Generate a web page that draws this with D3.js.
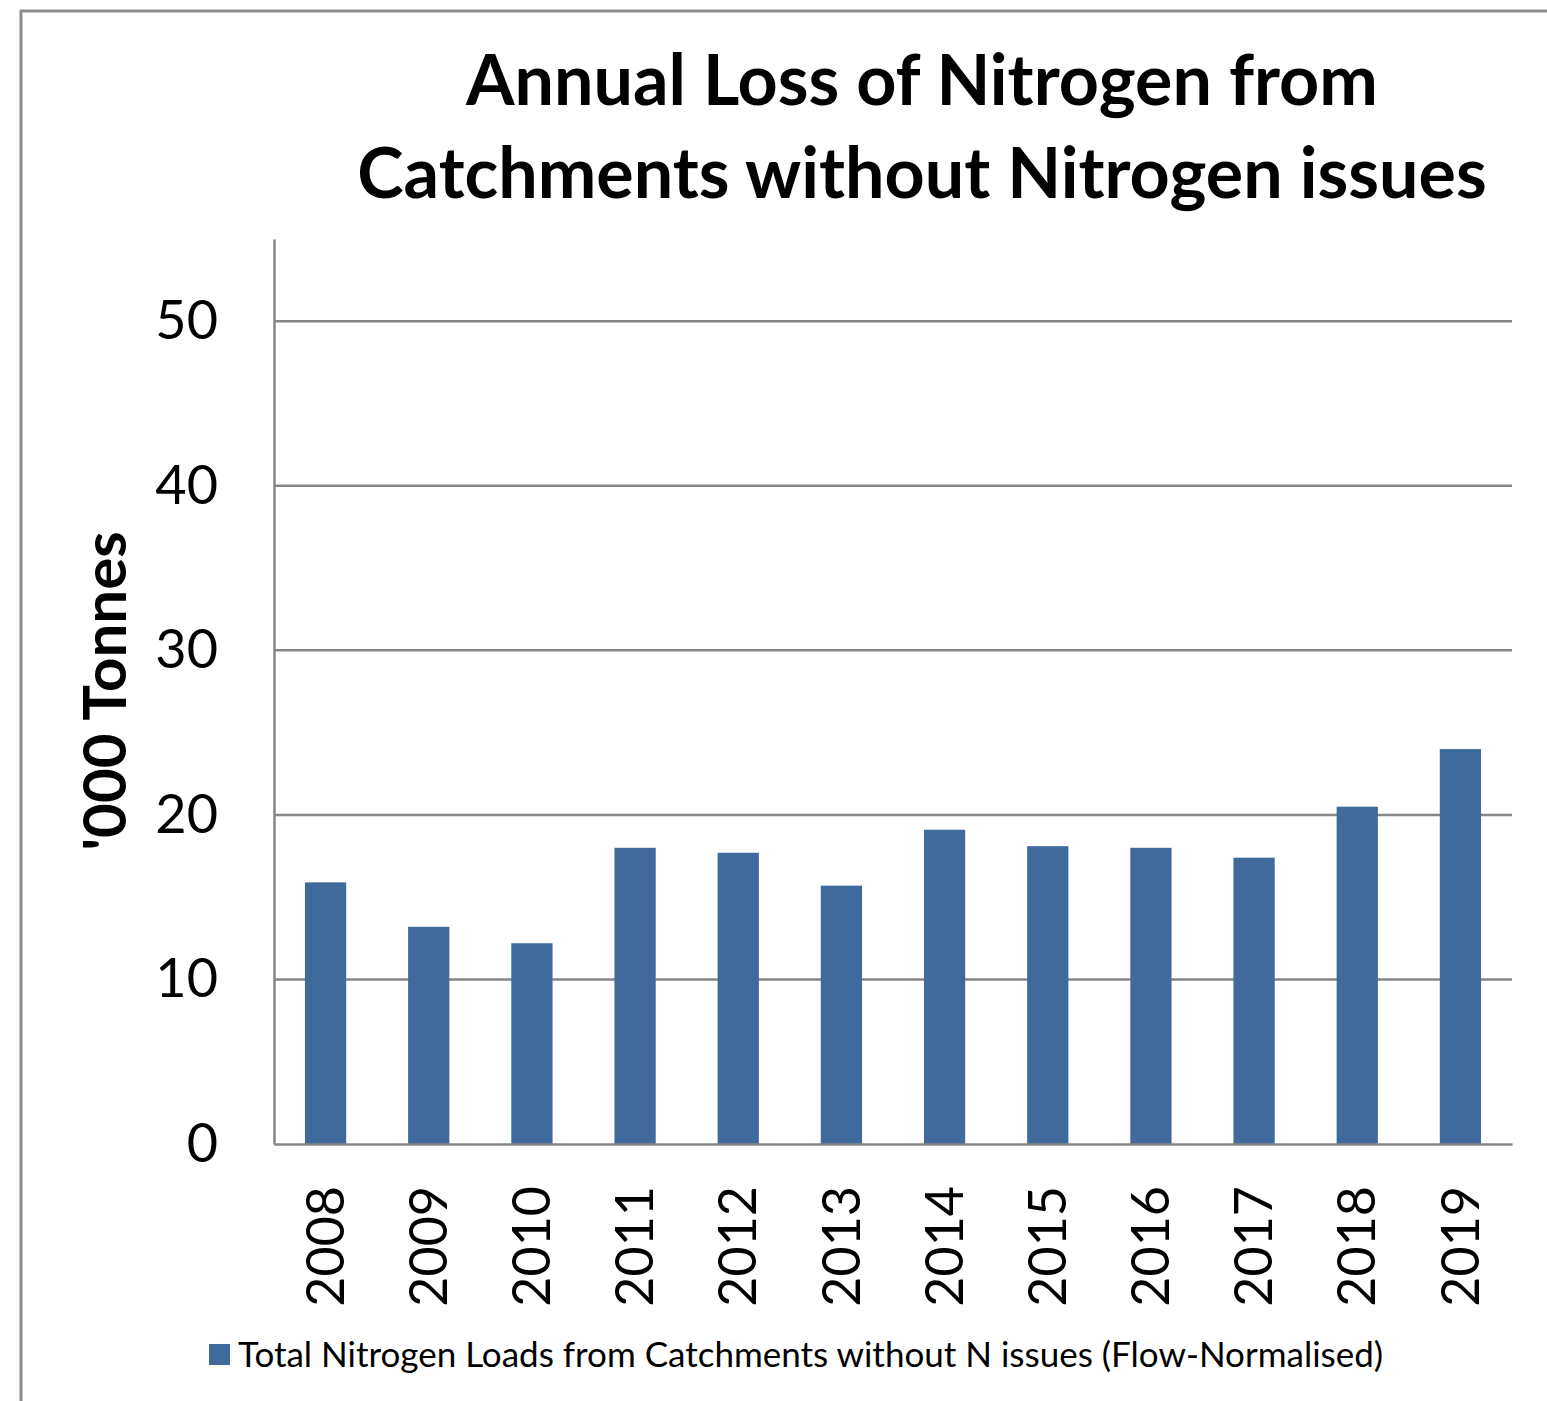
<!DOCTYPE html>
<html><head><meta charset="utf-8">
<script src="https://cdn.jsdelivr.net/npm/d3@7"></script>
<style>body{margin:0;background:#fff;} svg{display:block;}</style>
</head><body>
<svg id="c" width="1547" height="1401"></svg>
<script>
const years = ["2008","2009","2010","2011","2012","2013","2014","2015","2016","2017","2018","2019"];
const loads = [15.9, 13.2, 12.2, 18.0, 17.7, 15.7, 19.1, 18.1, 18.0, 17.4, 20.5, 24.0];
const yTicks = [0, 10, 20, 30, 40, 50];
const titleLines = ["Annual Loss of Nitrogen from", "Catchments without Nitrogen issues"];
const yLabel = "'000 Tonnes";
const seriesName = "Total Nitrogen Loads from Catchments without N issues (Flow-Normalised)";

const font = "Lato, 'Open Sans', sans-serif";
const svg = d3.select("#c");
const m = {left: 274, right: 1512, top: 239, bottom: 1144};
const x = d3.scaleBand().domain(years).range([m.left, m.right]).paddingInner(0.6).paddingOuter(0.3);
const y = d3.scaleLinear().domain([0, 55]).range([m.bottom, m.top]);

// outer border
svg.append("rect").attr("x", 21).attr("y", 11).attr("width", 1560).attr("height", 1420)
  .attr("fill", "none").attr("stroke", "#8c8c8c").attr("stroke-width", 3);

// title
svg.append("g").selectAll("text").data(titleLines).join("text")
  .attr("x", 922).attr("y", (d,i) => 105 + i*93)
  .attr("text-anchor", "middle").attr("font-family", font).attr("font-weight", "bold")
  .attr("font-size", 70).attr("fill", "#000").text(d => d);

// gridlines
svg.append("g").selectAll("line").data(yTicks.filter(t => t > 0)).join("line")
  .attr("x1", m.left).attr("x2", m.right).attr("y1", d => y(d)).attr("y2", d => y(d))
  .attr("stroke", "#868686").attr("stroke-width", 2.5);

// bars
svg.append("g").selectAll("rect").data(years).join("rect")
  .attr("x", d => x(d)).attr("width", x.bandwidth())
  .attr("y", (d,i) => y(loads[i])).attr("height", (d,i) => y(0) - y(loads[i]))
  .attr("fill", "#416a9c");

// y axis
const ya = svg.append("g").attr("transform", `translate(${m.left},0)`)
  .call(d3.axisLeft(y).tickValues(yTicks).tickSize(0).tickPadding(56));
ya.select(".domain").attr("stroke", "#868686").attr("stroke-width", 2.5);
ya.selectAll("text").attr("font-family", font).attr("font-size", 54).attr("fill", "#000");

// x axis
const xa = svg.append("g").attr("transform", `translate(0,${m.bottom})`)
  .call(d3.axisBottom(x).tickSize(0));
xa.select(".domain").attr("stroke", "#868686").attr("stroke-width", 2.5);
xa.selectAll("text").attr("font-family", font).attr("font-size", 52).attr("fill", "#000")
  .attr("transform", "rotate(-90)").attr("text-anchor", "end")
  .attr("dy", "0.35em").attr("x", -42).attr("y", 0);

// y label
svg.append("text").attr("transform", "translate(126,691) rotate(-90)")
  .attr("text-anchor", "middle").attr("font-family", font).attr("font-weight", "bold")
  .attr("font-size", 60).attr("fill", "#000").text(yLabel);

// legend
svg.append("rect").attr("x", 209).attr("y", 1344).attr("width", 21).attr("height", 21).attr("fill", "#416a9c");
svg.append("text").attr("x", 238).attr("y", 1367).attr("font-family", font)
  .attr("font-size", 35).attr("fill", "#000").text(seriesName);
</script>
</body></html>
